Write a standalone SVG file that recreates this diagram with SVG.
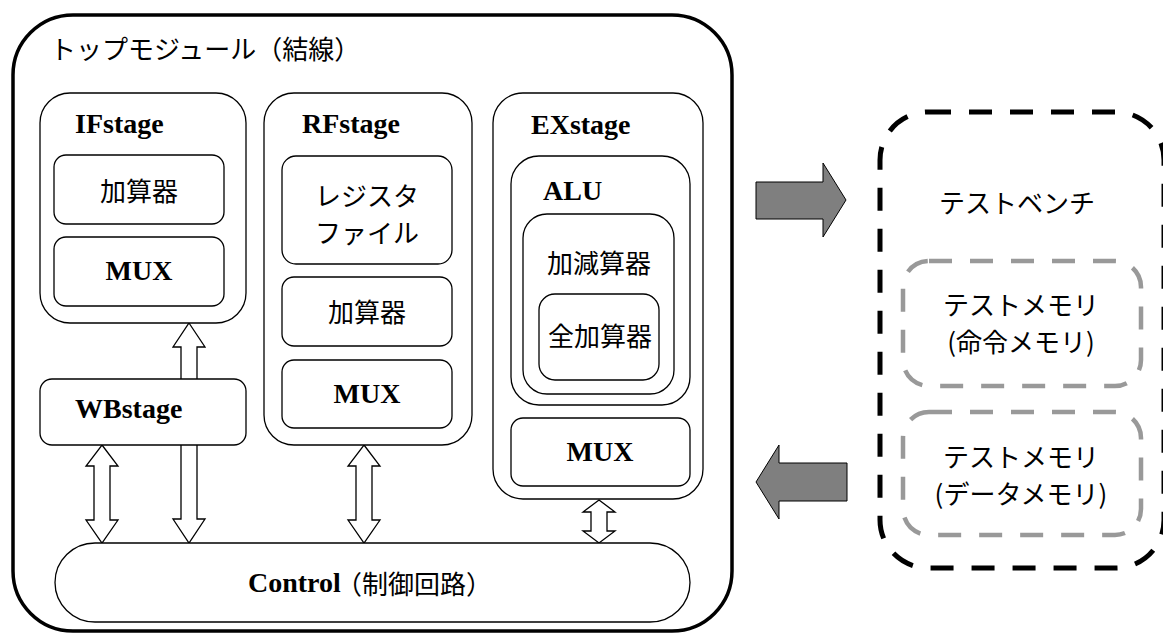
<svg xmlns="http://www.w3.org/2000/svg" width="1163" height="634" viewBox="0 0 1163 634">
  <style>
    .box { fill: #ffffff; stroke: #000000; stroke-width: 1.3; }
    .outer { fill: #ffffff; stroke: #000000; stroke-width: 3.5; }
    .bench { fill: none; stroke: #000000; stroke-width: 5; stroke-dasharray: 23 18; }
    .mem { fill: none; stroke: #999999; stroke-width: 4.5; stroke-dasharray: 23 18; }
    .dbl { fill: #ffffff; stroke: #000000; stroke-width: 1.3; stroke-linejoin: miter; }
    .flow { fill: #7f7f7f; stroke: #000000; stroke-width: 1; }
    .lat { font-family: "Liberation Serif", "DejaVu Serif", serif; font-weight: bold; font-size: 28px; fill: #000000; }
    .jp { font-family: "Noto Sans CJK JP", "Noto Sans", sans-serif; font-size: 26px; fill: #000000; dominant-baseline: central; }
    .mid { text-anchor: middle; }
  </style>

  <!-- top module frame -->
  <g id="top-module">
    <rect class="outer" x="13" y="15" width="719" height="616" rx="60" ry="60"/>
    <text class="jp" x="50" y="47">トップモジュール（結線）</text>
  </g>

  <!-- buses between stages (the long one runs under WBstage) and the bench data flow -->
  <g id="connectors">
    <path class="dbl" d="M189,323 L205,347 L197,347 L197,519 L205,519 L189,543 L173,519 L181,519 L181,347 L173,347 Z"/>
    <path class="dbl" d="M102,445 L118,466 L110,466 L110,520 L118,520 L102,543 L86,520 L94,520 L94,466 L86,466 Z"/>
    <path class="dbl" d="M364,445 L380,466 L372,466 L372,520 L380,520 L364,543 L348,520 L356,520 L356,466 L348,466 Z"/>
    <path class="dbl" d="M599,500 L615,512 L607,512 L607,531 L615,531 L599,543 L583,531 L591,531 L591,512 L583,512 Z"/>
    <path class="flow" d="M756,182 L823,182 L823,163 L846,200 L823,237 L823,219 L756,219 Z"/>
    <path class="flow" d="M847,463 L779,463 L779,445 L756,482 L779,519 L779,501 L847,501 Z"/>
  </g>

  <!-- IF stage -->
  <g id="ifstage">
    <rect class="box" x="40" y="93" width="206" height="230" rx="30" ry="30"/>
    <text class="lat" x="75" y="133">IFstage</text>
  </g>
  <g id="if-adder">
    <rect class="box" x="54" y="155" width="170" height="69" rx="12" ry="12"/>
    <text class="jp mid" x="139" y="189">加算器</text>
  </g>
  <g id="if-mux">
    <rect class="box" x="54" y="237" width="170" height="69" rx="12" ry="12"/>
    <text class="lat mid" x="139" y="280">MUX</text>
  </g>

  <!-- WB stage -->
  <g id="wbstage">
    <rect class="box" x="40" y="379" width="206" height="66" rx="12" ry="12"/>
    <text class="lat" x="75" y="418">WBstage</text>
  </g>

  <!-- RF stage -->
  <g id="rfstage">
    <rect class="box" x="264" y="93" width="208" height="352" rx="30" ry="30"/>
    <text class="lat" x="302" y="133">RFstage</text>
  </g>
  <g id="rf-regfile">
    <rect class="box" x="282" y="156" width="170" height="108" rx="14" ry="14"/>
    <text class="jp mid" x="367" y="194">レジスタ</text>
    <text class="jp mid" x="367" y="231">ファイル</text>
  </g>
  <g id="rf-adder">
    <rect class="box" x="282" y="277" width="170" height="69" rx="12" ry="12"/>
    <text class="jp mid" x="367" y="310">加算器</text>
  </g>
  <g id="rf-mux">
    <rect class="box" x="282" y="360" width="170" height="68" rx="12" ry="12"/>
    <text class="lat mid" x="367" y="403">MUX</text>
  </g>

  <!-- EX stage -->
  <g id="exstage">
    <rect class="box" x="493" y="93" width="210" height="406" rx="30" ry="30"/>
    <text class="lat" x="531" y="134">EXstage</text>
  </g>
  <g id="alu">
    <rect class="box" x="511" y="156" width="179" height="249" rx="28" ry="28"/>
    <text class="lat" x="543" y="200">ALU</text>
  </g>
  <g id="addsub">
    <rect class="box" x="523" y="214" width="151" height="180" rx="24" ry="24"/>
    <text class="jp mid" x="599" y="261">加減算器</text>
  </g>
  <g id="full-adder">
    <rect class="box" x="539" y="294" width="120" height="86" rx="16" ry="16"/>
    <text class="jp mid" x="600" y="334">全加算器</text>
  </g>
  <g id="ex-mux">
    <rect class="box" x="511" y="418" width="179" height="68" rx="12" ry="12"/>
    <text class="lat mid" x="600" y="461">MUX</text>
  </g>

  <!-- control unit -->
  <g id="control">
    <rect class="box" x="55" y="543" width="635" height="79" rx="40" ry="40"/>
    <text class="lat" x="248" y="592">Control<tspan class="jp" font-weight="normal" x="336" y="582">（制御回路）</tspan></text>
  </g>

  <!-- test bench -->
  <g id="testbench">
    <rect class="bench" x="880" y="112" width="284" height="456" rx="48" ry="48"/>
    <text class="jp mid" x="1017" y="201">テストベンチ</text>
  </g>
  <g id="inst-memory">
    <rect class="mem" x="903" y="261" width="238" height="125" rx="26" ry="26"/>
    <text class="jp mid" x="1021" y="303">テストメモリ</text>
    <text class="jp mid" x="1021" y="340">(命令メモリ)</text>
  </g>
  <g id="data-memory">
    <rect class="mem" x="903" y="412" width="238" height="123" rx="26" ry="26"/>
    <text class="jp mid" x="1021" y="455">テストメモリ</text>
    <text class="jp mid" x="1021" y="492">(データメモリ)</text>
  </g>
</svg>
